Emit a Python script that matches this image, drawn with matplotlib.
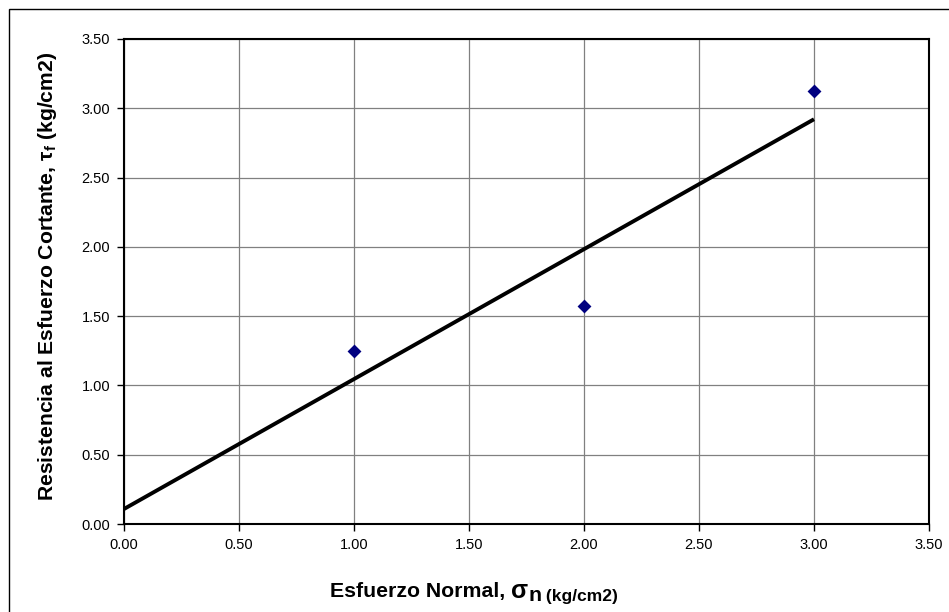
import numpy as np
import matplotlib
matplotlib.use("Agg")
import matplotlib.pyplot as plt
from matplotlib.patches import Rectangle

plt.rcParams['font.family'] = ['Liberation Sans', 'DejaVu Sans']
plt.rcParams['mathtext.fontset'] = 'custom'
plt.rcParams['mathtext.rm'] = 'Liberation Sans'
plt.rcParams['mathtext.bf'] = 'Liberation Sans:bold'
plt.rcParams['mathtext.it'] = 'Liberation Sans:italic'

# Ensayo de corte: esfuerzo normal vs. resistencia al corte
esfuerzo_normal = [1.0, 2.0, 3.0]
resistencia_corte = [1.25, 1.575, 3.125]
ticks = [0.0, 0.5, 1.0, 1.5, 2.0, 2.5, 3.0, 3.5]

W, H = 949, 612
fig = plt.figure(figsize=(W / 100, H / 100), dpi=100)

# plot area in pixels
left, right, top, bottom = 124, 929, 39, 524
ax = fig.add_axes([left / W, 1 - bottom / H, (right - left) / W, (bottom - top) / H])

# outer chart border (right/bottom edges run off the page)
fig.patches.append(Rectangle((9 / W, -0.05), 1.1, 1 - 9 / H + 0.05,
                             transform=fig.transFigure, fill=False,
                             edgecolor='black', linewidth=1.0))

ax.set_xlim(0, 3.5)
ax.set_ylim(0, 3.5)
ax.set_xticks(ticks)
ax.set_yticks(ticks)
ax.set_xticklabels([f"{t:.2f}" for t in ticks])
ax.set_yticklabels([f"{t:.2f}" for t in ticks])
ax.grid(True, color='#808080', linewidth=0.9)
ax.set_axisbelow(True)
for s in ax.spines.values():
    s.set_linewidth(1.5)
    s.set_color('black')
ax.tick_params(direction='out', length=5, width=1.0, labelsize=10.5, pad=5)

# linear trend through the data
xs = np.array(esfuerzo_normal)
ys = np.array(resistencia_corte)
m, b = np.polyfit(xs, ys, 1)
xl = np.array([0.0, xs.max()])
ax.plot(xl, m * xl + b, color='black', linewidth=2.8, solid_capstyle='butt', zorder=3)

ax.scatter(xs, ys, marker='D', s=50, color='#000080', zorder=4, linewidths=0)

# x-axis title assembled from pieces: text, upright sigma, lowered subscript
fig.canvas.draw()
r = fig.canvas.get_renderer()
pieces = [("Esfuerzo Normal, ", 15.3, 0),
          ("σ", 18, 0),
          ("n", 15.3, 3.5),
          (" (kg/cm2)", 12.5, 3.5)]
xpos = 330.0
base = 597.5
for txt, fs, dy in pieces:
    t = fig.text(xpos / W, 1 - (base + dy) / H, txt, fontsize=fs,
                 fontweight='bold', va='baseline', ha='left')
    xpos += t.get_window_extent(r).width

fig.text(48 / W, 1 - 276 / H,
         "Resistencia al Esfuerzo Cortante, τ" + r"$_{\mathbf{f}}$" + " (kg/cm2)",
         ha='center', va='center', rotation=90, fontsize=15.2, fontweight='bold')

fig.savefig("out.png", dpi=100)
